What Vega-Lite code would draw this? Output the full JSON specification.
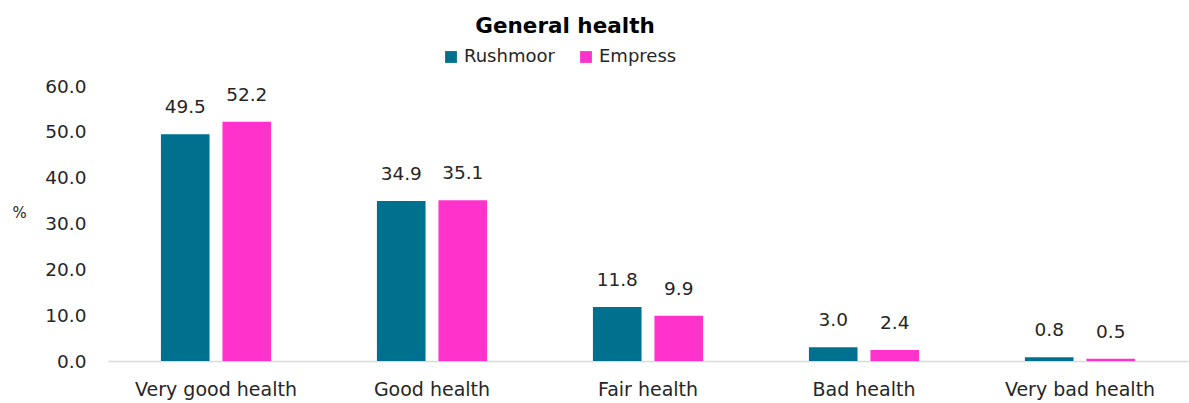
{
  "$schema": "https://vega.github.io/schema/vega-lite/v6.json",
  "autosize": "none",
  "width": 1080,
  "height": 275,
  "padding": {"left": 108, "top": 86, "right": 1, "bottom": 42},
  "background": "white",
  "title": {"text": "General health", "fontSize": 21.5, "font": "DejaVu Sans", "fontWeight": "bold", "color": "#000000", "anchor": "middle", "offset": 11, "dx": -83},
  "data": {"values": [
    {"category": "Very good health", "area": "Rushmoor", "value": 49.5},
    {"category": "Very good health", "area": "Empress", "value": 52.2},
    {"category": "Good health", "area": "Rushmoor", "value": 34.9},
    {"category": "Good health", "area": "Empress", "value": 35.1},
    {"category": "Fair health", "area": "Rushmoor", "value": 11.8},
    {"category": "Fair health", "area": "Empress", "value": 9.9},
    {"category": "Bad health", "area": "Rushmoor", "value": 3.0},
    {"category": "Bad health", "area": "Empress", "value": 2.4},
    {"category": "Very bad health", "area": "Rushmoor", "value": 0.8},
    {"category": "Very bad health", "area": "Empress", "value": 0.5}
  ]},
  "encoding": {
    "x": {"field": "category", "type": "nominal", "sort": null,
      "scale": {"paddingInner": 0.49, "paddingOuter": 0.245},
      "axis": {"title": null, "labelAngle": 0, "ticks": false, "labelPadding": 19, "labelFontSize": 19, "labelFont": "DejaVu Sans", "labelColor": "#262626", "domainColor": "#d9d9d9", "domainWidth": 1.5}},
    "xOffset": {"field": "area", "type": "nominal", "sort": ["Rushmoor", "Empress"], "scale": {"paddingInner": 0.21}},
    "y": {"field": "value", "type": "quantitative",
      "scale": {"domain": [0, 60]},
      "axis": {"values": [0, 10, 20, 30, 40, 50, 60], "format": ".1f", "grid": false, "ticks": false, "domain": false, "labelPadding": 22, "labelFontSize": 18.5, "labelFont": "DejaVu Sans", "labelColor": "#262626",
        "title": "%", "titleAngle": 0, "titleFont": "DejaVu Sans", "titleFontSize": 15, "titleFontWeight": "normal", "titleColor": "#262626", "titleX": -89, "titleY": 126, "titleAlign": "center", "titleBaseline": "middle"}}
  },
  "layer": [
    {"mark": {"type": "bar"},
     "encoding": {"color": {"field": "area", "type": "nominal", "sort": ["Rushmoor", "Empress"],
       "scale": {"domain": ["Rushmoor", "Empress"], "range": ["#00708F", "#FF33CC"]},
       "legend": {"title": null, "orient": "none", "direction": "horizontal", "legendX": 334, "legendY": -38, "symbolType": "square", "symbolSize": 140, "symbolStrokeWidth": 0, "labelFontSize": 18, "labelFont": "DejaVu Sans", "labelColor": "#262626", "columnPadding": 22, "labelOffset": 4}}}},
    {"mark": {"type": "text", "baseline": "middle", "dy": -27, "fontSize": 18.5, "font": "DejaVu Sans", "color": "#262626"},
     "encoding": {"text": {"field": "value", "type": "quantitative", "format": ".1f"}}}
  ],
  "config": {"view": {"stroke": null}}
}
